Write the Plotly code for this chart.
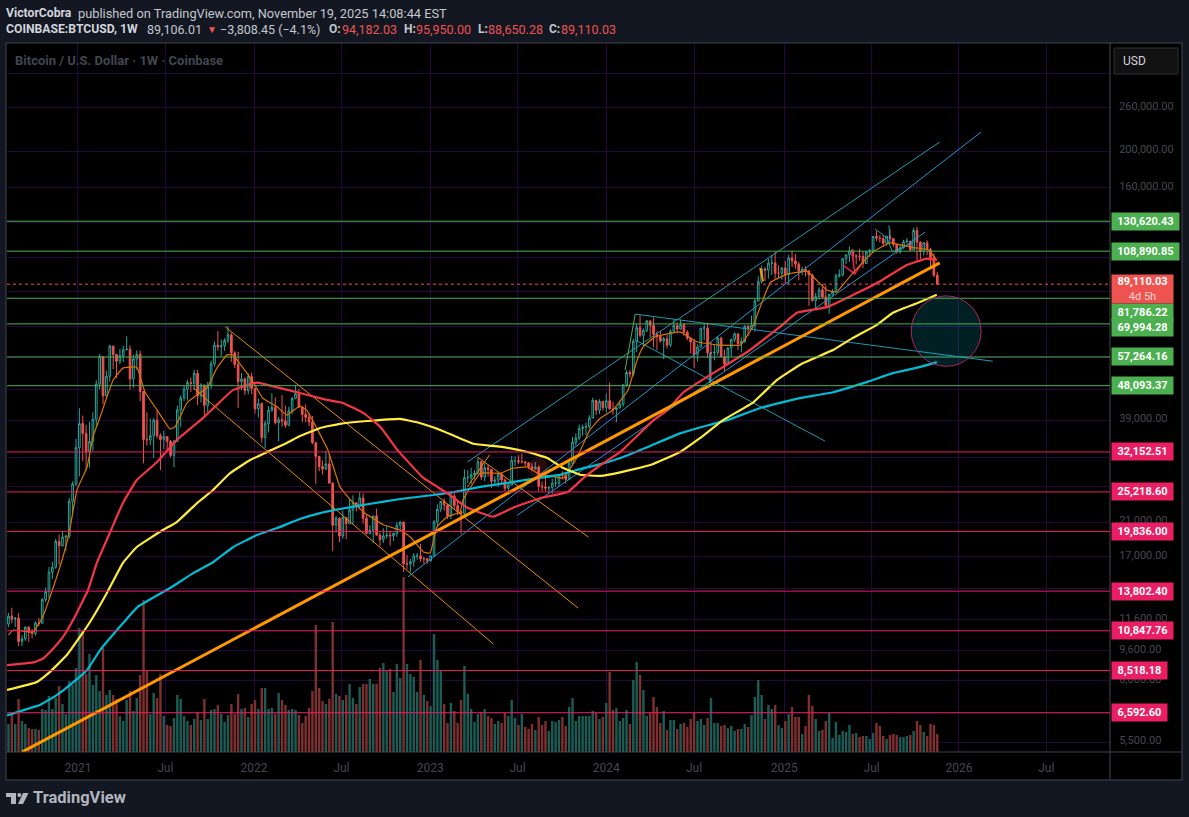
import numpy as np
import pandas as pd
import plotly.graph_objects as go

# --- Weekly BTCUSD candles ---
opens = [
    11100, 11300, 11850, 11650, 11710, 10170, 10330, 11080, 10740, 10670, 11370, 11360, 13120, 13770, 15480, 15960, 18680,
    18180, 19170, 19270, 23830, 26500, 33000, 38200, 36000, 32100, 34300, 39200, 48600, 57400, 45200, 50900, 61200,
    58100, 55800, 57700, 59800, 60000, 50100, 56600, 58200, 46400, 34700, 34600, 35500, 39000, 35500, 34700, 35300,
    34300, 31500, 34300, 41500, 44600, 47100, 49000, 48800, 51800, 45200, 48300, 42700, 48200, 54900, 61500, 60900,
    61300, 63300, 65500, 58700, 54700, 49300, 50100, 46700, 50800, 47300, 41800, 43100, 35100, 38200, 41400, 42200,
    38400, 39100, 38800, 37800, 41300, 44500, 45800, 42200, 40400, 39700, 38600, 34000, 31300, 29400, 29000, 29900,
    26600, 20600, 21500, 19300, 21600, 20800, 22600, 23600, 23200, 24300, 21500, 19600, 20000, 21800, 19400, 18900,
    19300, 19400, 19300, 19600, 20600, 21000, 16300, 16300, 16500, 17100, 17100, 16800, 16800, 16600, 17100, 21000,
    22700, 23800, 23300, 21800, 24600, 23200, 22400, 22100, 27500, 27500, 28000, 28300, 30300, 27600, 29200, 28900,
    26900, 27100, 28100, 27100, 25800, 26300, 30500, 30500, 30300, 30300, 30100, 29400, 29000, 29300, 26100, 26000,
    25800, 25900, 26600, 26600, 28000, 27900, 27200, 30000, 34100, 35000, 37100, 37400, 37500, 39500, 44000, 41400,
    43700, 42100, 43900, 41800, 41600, 42000, 43000, 48300, 52100, 51600, 63000, 68400, 65300, 67200, 71300, 69400,
    65700, 64900, 63100, 64000, 61500, 66900, 69300, 67800, 69600, 66600, 64200, 62700, 58200, 60800, 68200, 68300,
    58700, 58700, 58900, 64200, 57300, 54800, 60500, 63600, 65900, 62100, 62900, 69000, 68000, 69400, 80400, 90500,
    97700, 97000, 101200, 101400, 95200, 95200, 98300, 94500, 104400, 102600, 100600, 96500, 97500, 96600, 94200,
    80700, 82600, 86100, 82400, 78300, 83700, 85200, 93700, 94300, 104000, 106500, 109000, 105700, 105700, 105500,
    101000, 108400, 109200, 119000, 117900, 117600, 114200, 119300, 117500, 113500, 108300, 111100, 115300, 115700,
    109700, 123500, 115000, 108600, 114600, 110000, 104700, 94182.03,
]
highs = [
    11980, 12090, 12480, 11800, 12090, 10570, 11180, 11180, 10950, 11490, 11720, 13220, 14100, 15970, 16480, 18950, 19480,
    19920, 19420, 24300, 26900, 34800, 41950, 40100, 37900, 38600, 40900, 49700, 58300, 57500, 52650, 61700, 61200,
    58400, 60200, 61300, 64900, 61400, 58000, 59600, 59500, 46600, 40900, 39400, 39500, 41300, 36000, 36600, 35300,
    34600, 34600, 42600, 45300, 48100, 49800, 50500, 52900, 52900, 48800, 48400, 49200, 56000, 62900, 67000, 63700,
    64200, 69000, 66400, 59300, 59100, 51900, 50500, 51900, 52100, 47500, 44500, 43500, 38900, 42500, 45900, 44800,
    39800, 45400, 42600, 42300, 44900, 48200, 47200, 42400, 42900, 40800, 40000, 34100, 31400, 30500, 32400, 31700,
    26800, 21800, 21600, 22500, 21600, 24200, 24700, 23700, 25200, 25000, 21900, 20600, 21800, 22800, 19700, 20200,
    20500, 19900, 19700, 21000, 21100, 21000, 17200, 16800, 17400, 17400, 18400, 17000, 16900, 17200, 21300, 23400,
    23900, 24250, 23450, 25250, 25000, 23900, 22600, 28900, 28800, 29200, 28800, 31000, 30500, 30000, 29800, 28900,
    27700, 28400, 28400, 27400, 26800, 31400, 31300, 31500, 31800, 30400, 30100, 30050, 30250, 29650, 26850, 28150,
    26100, 27300, 27500, 28100, 28600, 28000, 30300, 35200, 35950, 38000, 37950, 38450, 40200, 44700, 44100, 44300,
    43800, 45900, 49000, 43600, 42200, 43900, 48550, 52800, 52950, 64000, 70100, 73800, 68100, 71700, 71300, 72800,
    66900, 67200, 64700, 65500, 67700, 71950, 70600, 71900, 70200, 67300, 64500, 63800, 61800, 68400, 70000, 70000,
    62700, 61800, 65000, 64800, 59800, 60700, 64100, 66500, 66000, 64500, 69500, 69500, 73600, 81500, 93450, 99800,
    98900, 104000, 106500, 108300, 99900, 99000, 102700, 106400, 109300, 107000, 102000, 98800, 99400, 96600, 95000,
    84500, 87500, 89000, 88500, 84000, 86500, 95000, 97500, 104000, 106700, 112000, 110400, 106800, 110400, 108900,
    108500, 110500, 119500, 123200, 120200, 119800, 119400, 124500, 117600, 113500, 113400, 116700, 118000, 115900,
    125500, 126200, 115900, 114800, 116400, 111200, 107500, 95950,
]
lows = [
    10950, 11100, 11360, 11100, 9880, 9880, 10200, 10150, 10370, 10530, 11180, 11340, 12900, 13220, 14850, 15800, 16200,
    18100, 17600, 19000, 21900, 26100, 27700, 30400, 28800, 29200, 32300, 37400, 47000, 43000, 44950, 49300, 53200,
    50400, 54800, 55500, 59700, 47000, 47500, 52900, 43800, 30000, 33400, 33500, 31000, 34900, 28800, 32700, 32100,
    31100, 29300, 34200, 37400, 43800, 43900, 46300, 46900, 42800, 43400, 39500, 40800, 47100, 54000, 59500, 57600,
    59400, 62300, 55600, 53500, 42000, 46800, 45500, 45600, 45700, 40600, 39650, 34000, 32900, 36200, 41100, 38000,
    34300, 37500, 37200, 37600, 40500, 44300, 42100, 38500, 38500, 37600, 33700, 26500, 28600, 28000, 28800, 26600,
    17600, 19700, 18600, 19000, 18900, 20700, 20700, 22400, 22700, 20800, 19500, 19500, 18500, 19300, 18100, 18500,
    19000, 18200, 18700, 19200, 20000, 15500, 15800, 15500, 16000, 16700, 16500, 16300, 16300, 16500, 17100, 20400,
    22300, 22500, 21400, 21400, 22700, 21900, 19570, 21900, 26600, 26500, 27200, 28000, 27100, 26950, 27700, 25800,
    26400, 26000, 26500, 25350, 24800, 26300, 29500, 29850, 29950, 29500, 29000, 28600, 28800, 25300, 25350, 25300,
    24900, 24900, 26000, 26000, 27200, 26550, 27100, 29800, 33400, 34500, 35500, 35650, 36900, 39500, 40200, 40500,
    41300, 40800, 41500, 40300, 38500, 41900, 42300, 47700, 50500, 50900, 59000, 64500, 60800, 66600, 64500, 60700,
    59700, 62400, 56500, 60200, 60800, 66300, 66700, 67600, 65100, 63400, 58450, 53500, 55700, 60700, 63400, 57100,
    49050, 56100, 57800, 57200, 52550, 54600, 57500, 62700, 59800, 58900, 62400, 65100, 67500, 66800, 80400, 89400,
    90800, 92100, 94200, 92200, 92500, 91500, 89200, 89300, 98900, 97800, 91200, 94100, 93400, 78200, 80100, 76600,
    81100, 81600, 77000, 74400, 83100, 85100, 92800, 93400, 100700, 102000, 103100, 100400, 102700, 98200, 100800,
    105200, 107500, 115700, 114700, 112000, 112700, 116800, 111700, 107300, 107300, 110600, 114300, 108600, 109300,
    102000, 103500, 106100, 106300, 98900, 93000, 88650.28,
]
closes = [
    11300, 11850, 11650, 11710, 10170, 10330, 11080, 10740, 10670, 11370, 11360, 13120, 13770, 15480, 15960, 18680, 18180,
    19170, 19270, 23830, 26500, 33000, 38200, 36000, 32100, 34300, 39200, 48600, 57400, 45200, 50900, 61200, 58100,
    55800, 57700, 59800, 60000, 50100, 56600, 58200, 46400, 34700, 34600, 35500, 39000, 35500, 34700, 35300, 34300,
    31500, 34300, 41500, 44600, 47100, 49000, 48800, 51800, 45200, 48300, 42700, 48200, 54900, 61500, 60900, 61300,
    63300, 65500, 58700, 54700, 49300, 50100, 46700, 50800, 47300, 41800, 43100, 35100, 38200, 41400, 42200, 38400,
    39100, 38800, 37800, 41300, 44500, 45800, 42200, 40400, 39700, 38600, 34000, 31300, 29400, 29000, 29900, 26600,
    20600, 21500, 19300, 21600, 20800, 22600, 23600, 23200, 24300, 21500, 19600, 20000, 21800, 19400, 18900, 19300,
    19400, 19300, 19600, 20600, 21000, 16300, 16300, 16500, 17100, 17100, 16800, 16800, 16600, 17100, 21000, 22700,
    23800, 23300, 21800, 24600, 23200, 22400, 22100, 27500, 27500, 28000, 28300, 30300, 27600, 29200, 28900, 26900,
    27100, 28100, 27100, 25800, 26300, 30500, 30500, 30300, 30300, 30100, 29400, 29000, 29300, 26100, 26000, 25800,
    25900, 26600, 26600, 28000, 27900, 27200, 30000, 34100, 35000, 37100, 37400, 37500, 39500, 44000, 41400, 43700,
    42100, 43900, 41800, 41600, 42000, 43000, 48300, 52100, 51600, 63000, 68400, 65300, 67200, 71300, 69400, 65700,
    64900, 63100, 64000, 61500, 66900, 69300, 67800, 69600, 66600, 64200, 62700, 58200, 60800, 68200, 68300, 58700,
    58700, 58900, 64200, 57300, 54800, 60500, 63600, 65900, 62100, 62900, 69000, 68000, 69400, 80400, 90500, 97700,
    97000, 101200, 101400, 95200, 95200, 98300, 94500, 104400, 102600, 100600, 96500, 97500, 96600, 94200, 80700,
    82600, 86100, 82400, 78300, 83700, 85200, 93700, 94300, 104000, 106500, 109000, 105700, 105700, 105500, 101000,
    108400, 109200, 119000, 117900, 117600, 114200, 119300, 117500, 113500, 108300, 111100, 115300, 115700, 109700,
    123500, 115000, 108600, 114600, 110000, 104700, 94182.03, 89110.03,
]

# volume per bar, thousand BTC scale
volumes = [
    28, 37, 28, 53, 31, 28, 24, 23, 23, 22, 43, 42, 56, 43, 54, 66, 48, 38, 71, 67,
    84, 124, 122, 78, 98, 67, 77, 61, 104, 57, 62, 57, 53, 36, 31, 52, 61, 41, 54, 77,
    152, 81, 38, 59, 54, 78, 36, 27, 26, 34, 57, 53, 36, 31, 27, 33, 40, 32, 53, 33,
    42, 43, 47, 38, 30, 37, 48, 38, 58, 43, 44, 35, 48, 52, 43, 64, 64, 43, 44, 38,
    59, 52, 47, 42, 43, 42, 37, 29, 36, 44, 61, 127, 64, 51, 48, 53, 130, 58, 56, 52,
    57, 68, 54, 48, 65, 68, 68, 73, 68, 68, 84, 89, 81, 83, 60, 88, 74, 175, 88, 78,
    75, 60, 92, 57, 51, 46, 118, 92, 81, 48, 29, 49, 41, 29, 52, 86, 58, 43, 30, 38,
    40, 43, 36, 34, 28, 31, 29, 39, 36, 52, 34, 27, 38, 25, 23, 28, 22, 35, 27, 31,
    21, 31, 30, 32, 35, 26, 45, 54, 31, 36, 36, 36, 36, 41, 39, 33, 35, 49, 80, 42,
    44, 31, 34, 42, 28, 72, 90, 77, 62, 36, 39, 55, 45, 29, 41, 22, 32, 32, 23, 28,
    29, 25, 33, 39, 31, 33, 27, 34, 54, 29, 29, 26, 27, 24, 26, 21, 23, 23, 28, 25,
    37, 55, 72, 57, 33, 47, 43, 47, 27, 24, 31, 38, 45, 35, 35, 18, 26, 57, 46, 33,
    21, 22, 31, 39, 14, 30, 17, 21, 20, 27, 18, 19, 15, 16, 16, 13, 19, 29, 26, 16,
    13, 17, 18, 17, 15, 15, 16, 17, 21, 31, 27, 20, 16, 28, 27, 18,
]

# --- Moving averages ---
ema_fast_dates = [
    "2020-08-10", "2020-08-20", "2020-09-30", "2020-10-20", "2020-11-09", "2020-12-01", "2020-12-15", "2020-12-30",
    "2021-01-20", "2021-02-01", "2021-02-16", "2021-03-02", "2021-03-15", "2021-04-04", "2021-05-03", "2021-05-20",
    "2021-06-14", "2021-07-11", "2021-07-21", "2021-08-15", "2021-09-05", "2021-09-26", "2021-10-16", "2021-11-06",
    "2021-11-18", "2021-12-08", "2021-12-30", "2022-01-19", "2022-02-18", "2022-03-10", "2022-04-06", "2022-04-20",
    "2022-06-03", "2022-06-28", "2022-07-20", "2022-08-16", "2022-09-27", "2022-10-31", "2022-11-21", "2022-12-18",
    "2023-01-01", "2023-01-15", "2023-02-05", "2023-03-04", "2023-03-10", "2023-04-15", "2023-05-26", "2023-06-22",
    "2023-07-22", "2023-08-11", "2023-10-04", "2023-11-02", "2023-11-28", "2023-12-20", "2024-01-15", "2024-02-15",
    "2024-03-05", "2024-03-17", "2024-04-11", "2024-06-02", "2024-07-07", "2024-08-18", "2024-10-05", "2024-10-31",
    "2024-11-15", "2024-12-06", "2025-01-09", "2025-02-20", "2025-04-02", "2025-04-22", "2025-05-26", "2025-07-07",
    "2025-08-11", "2025-09-28", "2025-10-28", "2025-11-16",
]
ema_fast = [
    10580, 10900, 10770, 11800, 13900, 16980, 20010, 25510, 29340, 35200, 39750, 44900, 49800, 53500, 53800, 46200,
    41500, 36950, 37400, 43300, 45500, 47500, 53500, 58000, 58000, 53800, 49200, 44600, 42300, 40200, 42500, 41500,
    32550, 26000, 24010, 22300, 20620, 20010, 19170, 17500, 17400, 20380, 21700, 22300, 24010, 28250, 28250, 29150,
    29340, 28250, 27450, 31200, 36750, 39500, 41500, 46800, 56200, 60800, 64700, 66700, 62800, 61600, 61600, 68900,
    77600, 90000, 94600, 96300, 86000, 84900, 95300, 108400, 114500, 111300, 110000, 103200,
]
ema_red_dates = [
    "2020-08-07", "2020-09-30", "2020-10-20", "2020-11-08", "2020-12-01", "2020-12-22", "2021-01-22", "2021-02-09",
    "2021-03-08", "2021-04-04", "2021-05-03", "2021-06-14", "2021-07-25", "2021-09-17", "2021-10-16", "2021-11-18",
    "2022-01-07", "2022-02-18", "2022-04-06", "2022-06-01", "2022-07-04", "2022-08-16", "2022-09-20", "2022-10-25",
    "2022-12-18", "2023-02-05", "2023-03-19", "2023-05-12", "2023-06-22", "2023-08-18", "2023-10-13", "2023-11-15",
    "2023-12-20", "2024-01-30", "2024-04-08", "2024-05-07", "2024-06-09", "2024-08-03", "2024-10-19", "2024-12-26",
    "2025-01-30", "2025-04-02", "2025-05-26", "2025-07-15", "2025-09-15", "2025-10-26", "2025-11-16",
]
ema_red = [
    8800, 8950, 9150, 9650, 10450, 11580, 13900, 16370, 19650, 23550, 27110, 30250, 34580, 39500, 42800, 46800,
    49000, 47600, 46000, 44100, 43300, 40700, 37400, 32550, 27450, 25050, 22900, 21700, 22900, 24300, 25200, 27450,
    29700, 32150, 39000, 41500, 46200, 51300, 59000, 68700, 74900, 77500, 83400, 89700, 100100, 104100, 103200,
]
ema_yellow_dates = [
    "2020-08-07", "2020-10-08", "2020-11-04", "2020-12-09", "2021-01-05", "2021-01-26", "2021-03-02", "2021-04-04",
    "2021-05-03", "2021-06-26", "2021-07-25", "2021-09-05", "2021-10-08", "2021-11-12", "2021-12-24", "2022-01-28",
    "2022-03-10", "2022-04-06", "2022-05-18", "2022-06-28", "2022-08-24", "2022-10-31", "2022-12-05", "2023-01-22",
    "2023-03-31", "2023-05-26", "2023-07-22", "2023-09-01", "2023-10-04", "2023-11-08", "2023-12-20", "2024-01-30",
    "2024-04-01", "2024-06-02", "2024-07-13", "2024-08-30", "2024-10-31", "2024-12-20", "2025-02-11", "2025-04-15",
    "2025-05-26", "2025-07-15", "2025-08-17", "2025-10-06", "2025-11-16",
]
ema_yellow = [
    7570, 7950, 8450, 9360, 10450, 11440, 13650, 16370, 18050, 20010, 21000, 23570, 25510, 28250, 30620, 32150,
    33950, 35400, 37200, 38150, 38800, 39300, 38500, 36750, 33800, 33200, 32150, 31000, 29150, 28000, 27800, 28400,
    29700, 32150, 34950, 39000, 43400, 49800, 55100, 59700, 64300, 69600, 74900, 79400, 83500,
]
ema_cyan_dates = [
    "2020-08-07", "2020-09-17", "2020-10-14", "2020-11-18", "2020-12-15", "2021-01-20", "2021-02-16", "2021-03-23",
    "2021-05-05", "2021-07-11", "2021-08-28", "2021-10-08", "2021-11-19", "2022-01-07", "2022-02-18", "2022-04-06",
    "2022-05-18", "2022-06-28", "2022-08-24", "2022-10-31", "2023-01-07", "2023-02-18", "2023-04-15", "2023-06-10",
    "2023-08-01", "2023-09-26", "2023-11-13", "2023-12-20", "2024-01-30", "2024-04-01", "2024-06-02", "2024-07-13",
    "2024-09-08", "2024-11-15", "2025-02-05", "2025-04-15", "2025-06-25", "2025-08-17", "2025-10-13", "2025-11-16",
]
ema_cyan = [
    6490, 6740, 6910, 7340, 7800, 8550, 9650, 10900, 12550, 14070, 15400, 16450, 18050, 19400, 20250, 21400,
    22170, 22730, 23400, 24160, 24750, 25200, 26000, 26640, 27300, 27970, 29100, 29850, 31000, 33350, 36000, 37300,
    39000, 42000, 44600, 46200, 49200, 51900, 53900, 55500,
]

# --- Drawn trendlines: dates, prices, colour, width ---
drawings = [
    (["2021-11-02", "2023-11-04"], [68800, 12450], "#e58e00", 1),
    (["2021-08-28", "2023-05-12"], [47400, 10010], "#e58e00", 1),
    (["2023-04-09", "2023-11-25"], [31170, 19170], "#e58e00", 1),
    (["2023-03-19", "2023-05-04"], [25980, 31570], "#e58e00", 1),
    (["2022-11-16", "2026-02-16"], [15050, 224600], "#2196d3", 1),
    (["2023-07-01", "2025-10-23"], [21900, 122300], "#2196d3", 1),
    (["2023-03-19", "2025-11-22"], [30250, 211350], "#1d9bb2", 1),
    (["2024-03-01", "2026-03-12"], [74300, 55800], "#1d9bb2", 1),
    (["2024-03-01", "2025-03-29"], [63500, 34360], "#1d9bb2", 1),
    (["2024-03-01", "2024-02-09"], [74300, 52900], "#4caf50", 1),
    (["2024-08-03", "2024-08-03"], [58700, 48900], "#1db8d0", 1.5),
    (["2025-05-05", "2025-05-30", "2025-06-16"], [100100, 94800, 102000], "#e91e63", 1.5),
    (["2025-05-24", "2025-05-30"], [110000, 94800], "#e91e63", 1.5),
    (["2025-07-11", "2025-08-05", "2025-08-16", "2025-09-28"], [124700, 118000, 108400, 114800], "#1d9bb2", 1),
    (["2025-08-09", "2025-08-11"], [127500, 114800], "#1d9bb2", 1),
    (["2024-11-15", "2024-11-21"], [98300, 90700], "#ff9800", 2),
]
orange_dates = ["2020-09-07", "2025-11-22"]
orange_prices = [5190, 101400]

# --- Levels and axis text ---
green_levels = [130620.43, 108890.85, 81786.22, 69994.28, 57264.16, 48093.37]
pink_levels = [32152.51, 25218.60, 19836.00, 13802.40, 10847.76, 8518.18, 6592.60]
last_price = 89110.03

price_ticks = [320000, 260000, 200000, 160000, 130000, 105000, 85000, 69000, 57000, 47000, 39000, 31000,
               26000, 21000, 17000, 14000, 11600, 9600, 8000, 6600, 5500]
price_labels = ["", "260,000.00", "200,000.00", "160,000.00", "", "", "", "", "", "", "39,000.00", "",
                "", "21,000.00", "17,000.00", "", "11,600.00", "9,600.00", "8,000.00", "", "5,500.00"]
date_ticks = ["2021-01-01", "2021-07-01", "2022-01-01", "2022-07-01", "2023-01-01", "2023-07-01",
              "2024-01-01", "2024-07-01", "2025-01-04", "2025-07-04", "2026-01-01", "2026-07-01"]
date_labels = ["2021", "Jul", "2022", "Jul", "2023", "Jul", "2024", "Jul", "2025", "Jul", "2026", "Jul"]

dates = pd.date_range("2020-08-03", periods=len(closes), freq="7D")

UP = "#26a69a"
DOWN = "#ef5350"
GRID = "#22083c"
W, H = 1189, 817
L, R, T, B = 7, 1110, 44, 752


# page pixels to paper coordinates, only used for the TradingView furniture
def px(x):
    return (x - L) / (R - L)


def py(y):
    return 1 - (y - T) / (B - T)


fig = go.Figure()

# the volume pane starts one week after the first, clipped candle
vol_colors = ["#1b5c54" if c >= o else "#7e2f2f" for o, c in zip(opens[1:], closes[1:])]
fig.add_trace(go.Bar(x=dates[1:], y=volumes, marker=dict(color=vol_colors, line_width=0), yaxis="y"))

fig.add_trace(go.Candlestick(
    x=dates, open=opens, high=highs, low=lows, close=closes, yaxis="y2", whiskerwidth=0,
    increasing=dict(line=dict(color=UP, width=1), fillcolor="#000000"),
    decreasing=dict(line=dict(color=DOWN, width=1), fillcolor=DOWN),
))

for xs, ys, color, width in drawings:
    fig.add_trace(go.Scatter(x=xs, y=ys, mode="lines", line=dict(color=color, width=width), yaxis="y2"))

fig.add_trace(go.Scatter(x=ema_fast_dates, y=ema_fast, mode="lines", yaxis="y2",
                         line=dict(color="#d97400", width=1.2, shape="spline", smoothing=0.3)))
for xs, ys, color in [(ema_cyan_dates, ema_cyan, "#00bcd4"), (ema_yellow_dates, ema_yellow, "#ffeb3b"),
                      (ema_red_dates, ema_red, "#f23645")]:
    fig.add_trace(go.Scatter(x=xs, y=ys, mode="lines", yaxis="y2",
                             line=dict(color=color, width=2.2, shape="spline", smoothing=0.3)))
fig.add_trace(go.Scatter(x=orange_dates, y=orange_prices, mode="lines", yaxis="y2",
                         line=dict(color="#ff9800", width=3)))

# frame of the chart pane
shapes = [
    dict(type="rect", xref="paper", yref="paper", layer="below", x0=px(6), x1=px(1182), y0=py(43), y1=py(780),
         fillcolor="#000000", line=dict(color="#434651", width=1)),
    dict(type="line", xref="paper", yref="paper", x0=px(1110), x1=px(1110), y0=py(43), y1=py(780),
         line=dict(color="#434651", width=1)),
    dict(type="line", xref="paper", yref="paper", x0=px(6), x1=px(1182), y0=py(752), y1=py(752),
         line=dict(color="#434651", width=1)),
    dict(type="rect", xref="paper", yref="paper", x0=px(1114), x1=px(1178), y0=py(48), y1=py(74),
         fillcolor="#111111", line=dict(color="#2f3138", width=1)),
]
for level in green_levels:
    shapes.append(dict(type="line", xref="paper", yref="y2", x0=0, x1=1, y0=level, y1=level,
                       line=dict(color="#4caf50", width=1)))
for level in pink_levels:
    shapes.append(dict(type="line", xref="paper", yref="y2", x0=0, x1=1, y0=level, y1=level,
                       line=dict(color="#e91e63", width=1)))
shapes.append(dict(type="line", xref="paper", yref="y2", x0=0, x1=1, y0=last_price, y1=last_price,
                   line=dict(color=DOWN, width=1, dash="dot")))
# target zone circle and the faint marker from the idea
shapes.append(dict(type="circle", xref="x", yref="y2", x0="2025-09-24", x1="2026-02-16", y0=54100, y1=83000,
                   fillcolor="rgba(0,188,212,0.17)", line=dict(color="#b0245f", width=1)))
shapes.append(dict(type="circle", xref="x", yref="y2", x0="2023-07-22", x1="2023-09-02", y0=27450, y1=31000,
                   fillcolor="rgba(239,83,80,0.16)", line=dict(width=0)))
# TradingView logo
logo = [[(6, 793), (16, 793), (16, 804), (11, 804), (11, 797), (6, 797)],
        [(23, 793), (28.5, 793), (23, 804), (18, 804)]]
for pts in logo:
    path = "M " + " L ".join(f"{px(a):.5f},{py(b):.5f}" for a, b in pts) + " Z"
    shapes.append(dict(type="path", xref="paper", yref="paper", path=path, fillcolor="#b2b5be", line_width=0))
shapes.append(dict(type="circle", xref="paper", yref="paper", x0=px(17.3), x1=px(21.3), y0=py(797), y1=py(793),
                   fillcolor="#b2b5be", line_width=0))

FONT = "Roboto"


def label(value, text, color, shift=0, height=17):
    width = {10: 67, 9: 61, 8: 55}.get(len(text), 61)
    return dict(xref="paper", yref="y2", x=px(1111), y=np.log10(value), xanchor="left", yanchor="middle", yshift=shift,
                text=f"<b>{text}</b>", showarrow=False, bgcolor=color, width=width, height=height, borderpad=0,
                align="center", font=dict(family=FONT, size=11, color="#ffffff"))


def note(x, y, text, size, color):
    # annotation boxes pad their text by two pixels
    return dict(xref="paper", yref="paper", x=px(x - 2), y=py(y), xanchor="left", yanchor="middle", text=text,
                showarrow=False, font=dict(family=FONT, size=size, color=color))


green_shift = [0, 0, -14, -4, 0, 0]
annotations = [label(v, f"{v:,.2f}", "#4caf50", s) for v, s in zip(green_levels, green_shift)]
annotations += [label(v, f"{v:,.2f}", "#e91e63") for v in pink_levels]
annotations.append(dict(xref="paper", yref="y2", x=px(1111), y=np.log10(last_price), xanchor="left", yanchor="middle",
                        yshift=-5, text="<b>89,110.03</b><br><span style='color:#fbd5d5'>4d 5h</span>", showarrow=False,
                        bgcolor=DOWN, width=61, height=28, borderpad=0, align="center",
                        font=dict(family=FONT, size=11, color="#ffffff")))

TEXT = "#c4c7cf"
annotations += [
    note(6, 13, "<b>VictorCobra</b>", 12.2, "#d1d4dc"),
    note(78, 13, "published on TradingView.com, November 19, 2025 14:08:44 EST", 12.8, TEXT),
    note(6, 29, "<b>COINBASE:BTCUSD, 1W</b>", 12.2, "#d1d4dc"),
    note(147, 29, "89,106.01", 12.5, TEXT),
    note(207, 29, "▼", 10, DOWN),
    note(220, 29, "−3,808.45 (−4.1%)", 12.5, TEXT),
    note(329, 29, "<b>O:</b>", 12, TEXT),
    note(342, 29, "94,182.03", 12.5, DOWN),
    note(404, 29, "<b>H:</b>", 12, TEXT),
    note(416, 29, "95,950.00", 12.5, DOWN),
    note(478, 29, "<b>L:</b>", 12, TEXT),
    note(488, 29, "88,650.28", 12.5, DOWN),
    note(549, 29, "<b>C:</b>", 12, TEXT),
    note(561, 29, "89,110.03", 12.5, DOWN),
    note(15, 60, "<b>Bitcoin / U.S. Dollar · 1W · Coinbase</b>", 13, "#434651"),
    note(1123, 61, "USD", 12, "#d1d4dc"),
    note(33, 798, "<b>TradingView</b>", 16.5, "#b2b5be"),
]

fig.update_layout(
    width=W, height=H,
    margin=dict(l=L, r=W - R, t=T, b=H - B, pad=0),
    paper_bgcolor="#131722",
    plot_bgcolor="#000000",
    showlegend=False,
    bargap=0.28,
    shapes=shapes,
    annotations=annotations,
    xaxis=dict(
        type="date", range=["2020-08-07", "2026-11-10"], rangeslider=dict(visible=False),
        tickmode="array", tickvals=date_ticks, ticktext=date_labels,
        showgrid=True, gridcolor=GRID, gridwidth=1, zeroline=False, showline=False,
        ticks="outside", ticklen=5, tickcolor="rgba(0,0,0,0)",
        tickfont=dict(family=FONT, size=12, color="#454851"),
    ),
    yaxis=dict(range=[0, 708], visible=False, fixedrange=True),
    yaxis2=dict(
        type="log", overlaying="y", side="right", anchor="x",
        range=[3.7155, 5.5836],
        tickmode="array", tickvals=price_ticks, ticktext=price_labels,
        showgrid=True, gridcolor=GRID, gridwidth=1, zeroline=False, showline=False,
        ticks="outside", ticklen=6, tickcolor="rgba(0,0,0,0)", ticklabelshift=-2,
        tickfont=dict(family=FONT, size=11, color="#454851"),
    ),
)

fig.write_html("out.html", config={"displayModeBar": False},
               post_script="document.body.style.margin='0';document.body.style.overflow='hidden';")
